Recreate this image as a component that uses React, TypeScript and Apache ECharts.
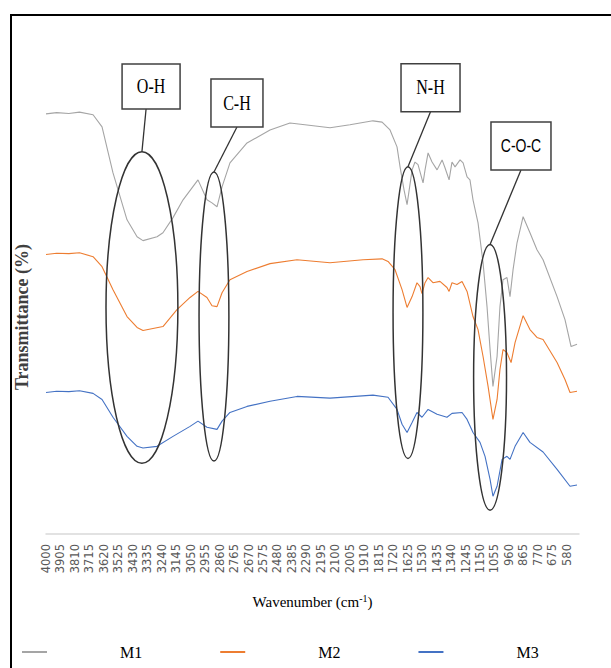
import React, { useEffect, useRef } from "react";
import * as echarts from "echarts";

const seriesNames = ["M1", "M2", "M3"];
const seriesColors = ["#a5a5a5", "#ed7d31", "#4472c4"];

const wavenumberTicks = [
  4000, 3905, 3810, 3715, 3620, 3525, 3430, 3335, 3240, 3145, 3050, 2955, 2860,
  2765, 2670, 2575, 2480, 2385, 2290, 2195, 2100, 2005, 1910, 1815, 1720, 1625,
  1530, 1435, 1340, 1245, 1150, 1055, 960, 865, 770, 675, 580,
];

// [wavenumber, transmittance (arbitrary offset units)]
const m1 = [
  [4000, 96.8], [3930, 97.1], [3850, 96.9], [3780, 97.2], [3691, 96.6], [3632, 93.8],
  [3560, 83.2], [3468, 72.4], [3402, 68.5], [3363, 67.6], [3271, 68.5], [3232, 69.4],
  [3166, 72.9], [3100, 77.0], [3002, 81.6], [2943, 77.0], [2910, 76.3], [2877, 75.4],
  [2844, 80.0], [2792, 85.5], [2680, 90.1], [2529, 93.1], [2398, 94.7], [2300, 94.3],
  [2135, 93.6], [2004, 94.3], [1853, 95.2], [1793, 94.9], [1741, 93.1], [1695, 89.2],
  [1675, 84.6], [1649, 79.3], [1629, 75.9], [1596, 83.9], [1577, 85.7], [1557, 85.1],
  [1524, 80.9], [1511, 83.9], [1491, 87.8], [1465, 85.7], [1432, 83.9], [1399, 86.2],
  [1380, 84.4], [1353, 81.6], [1334, 85.7], [1314, 84.6], [1281, 86.2], [1261, 85.5],
  [1235, 82.3], [1216, 81.6], [1196, 77.0], [1163, 71.7], [1130, 62.5], [1104, 52.4],
  [1084, 42.5], [1065, 34.0], [1038, 40.9], [1019, 52.4], [999, 58.6], [973, 59.1],
  [953, 54.7], [933, 60.9], [907, 67.1], [867, 73.1], [822, 69.4], [776, 65.5],
  [736, 63.2], [644, 54.7], [592, 49.4], [552, 43.2], [513, 43.7],
];

const m2 = [
  [4000, 64.4], [3930, 64.7], [3850, 64.6], [3780, 64.8], [3691, 63.9], [3632, 61.6],
  [3560, 56.3], [3468, 50.1], [3402, 47.6], [3363, 46.9], [3232, 47.8], [3140, 51.7],
  [3054, 54.5], [3002, 55.9], [2943, 54.5], [2910, 52.6], [2877, 52.4], [2844, 55.6],
  [2792, 58.6], [2680, 60.5], [2529, 62.3], [2352, 63.2], [2135, 62.5], [1918, 63.2],
  [1793, 63.4], [1754, 62.8], [1708, 60.9], [1662, 56.3], [1629, 52.2], [1596, 54.7],
  [1564, 57.9], [1544, 57.0], [1531, 55.4], [1511, 57.9], [1491, 59.1], [1459, 57.9],
  [1413, 58.2], [1367, 56.8], [1353, 55.9], [1334, 57.9], [1301, 57.5], [1268, 58.2],
  [1235, 55.9], [1196, 50.1], [1163, 47.1], [1130, 40.9], [1097, 34.0], [1065, 26.4],
  [1038, 31.0], [1019, 37.9], [999, 42.5], [973, 41.8], [946, 39.5], [920, 44.1],
  [867, 50.3], [822, 47.1], [776, 45.3], [736, 44.8], [644, 39.5], [592, 35.6],
  [559, 32.6], [513, 32.9],
];

const m3 = [
  [4000, 32.6], [3930, 32.9], [3850, 32.8], [3780, 33.0], [3691, 32.4], [3632, 31.0],
  [3560, 26.9], [3468, 22.5], [3402, 20.2], [3363, 19.8], [3271, 20.2], [3166, 22.5],
  [3054, 24.8], [3002, 26.0], [2943, 24.6], [2877, 24.1], [2844, 26.0], [2792, 28.0],
  [2680, 29.4], [2529, 30.6], [2352, 31.7], [2135, 31.3], [1853, 32.0], [1754, 31.5],
  [1695, 28.7], [1662, 25.3], [1629, 23.4], [1596, 25.7], [1564, 28.0], [1531, 26.9],
  [1491, 28.7], [1432, 27.6], [1367, 26.9], [1334, 27.8], [1268, 28.0], [1235, 26.4],
  [1196, 23.4], [1150, 21.1], [1117, 17.9], [1084, 12.6], [1065, 8.7], [1038, 11.0],
  [1005, 17.2], [973, 17.9], [953, 17.2], [920, 20.2], [867, 23.4], [822, 21.1],
  [736, 18.9], [644, 14.9], [559, 11.0], [513, 11.3],
];

const seriesData = [m1, m2, m3];

// Band annotations: ellipse centre / half-extent in data units, label box centre in data units
const bandLabels = ["O-H", "C-H", "N-H", "C-O-C"];
const bandEllipses = [
  [3370, 52.2, 236, 35.9],
  [2897, 50.1, 98, 33.3],
  [1623, 51.0, 98, 33.6],
  [1084, 36.1, 108, 30.6],
];
const bandBoxes = [
  [3310, 103.1],
  [2746, 99.3],
  [1475, 102.8],
  [881, 89.4],
];

export default function App() {
  const ref = useRef<HTMLDivElement>(null);

  useEffect(() => {
    if (!ref.current) return;
    const chart = echarts.init(ref.current, null, { renderer: "svg" });
    chart.setOption({
      animation: false,
      backgroundColor: "#ffffff",
      grid: { left: 46, right: 32, top: 100, bottom: 134 },
      legend: {
        left: 22,
        top: 644,
        padding: 0,
        icon: "rect",
        itemWidth: 25,
        itemHeight: 2,
        itemGap: 78,
        data: seriesNames,
        textStyle: {
          fontFamily: "Liberation Serif",
          fontSize: 16,
          color: "#000",
          padding: [0, 0, 0, 68],
        },
      },
      xAxis: {
        type: "value",
        min: 500,
        max: 4000,
        inverse: true,
        name: "Wavenumber (cm{sup|-1})",
        nameLocation: "middle",
        nameGap: 59,
        nameTextStyle: {
          fontFamily: "Liberation Serif",
          fontSize: 15,
          color: "#000",
          rich: {
            sup: { fontFamily: "Liberation Serif", fontSize: 10, color: "#000", padding: [0, 0, 8, 0] },
          },
        },
        axisLine: { show: true, lineStyle: { color: "#d9d9d9", width: 1.5 } },
        axisTick: { show: false },
        splitLine: { show: false },
        axisLabel: {
          customValues: wavenumberTicks,
          rotate: 90,
          margin: 10,
          fontFamily: "DejaVu Sans",
          fontSize: 11.5,
          color: "#595959",
          formatter: (v: number) => String(v),
        },
      },
      yAxis: {
        type: "value",
        min: 0,
        max: 100,
        name: "Transmittance (%)",
        nameLocation: "middle",
        nameGap: 15,
        nameTextStyle: {
          fontFamily: "Liberation Serif",
          fontSize: 18,
          fontWeight: "bold",
          color: "#404040",
        },
        axisLine: { show: false },
        axisTick: { show: false },
        axisLabel: { show: false },
        splitLine: { show: false },
      },
      series: seriesNames.map((name, i) => ({
        name,
        type: "line",
        data: seriesData[i],
        symbol: "none",
        lineStyle: { color: seriesColors[i], width: 1.1 },
        itemStyle: { color: seriesColors[i] },
      })),
    });

    const px = (p: number[]) => chart.convertToPixel({ xAxisIndex: 0, yAxisIndex: 0 }, p) as number[];
    const graphics: any[] = [
      {
        type: "rect",
        shape: { x: 11, y: 15, width: 700, height: 700 },
        style: { fill: "none", stroke: "#000", lineWidth: 2 },
        z: 100,
      },
    ];
    const boxSizes = [
      [58, 45],
      [52, 48],
      [59, 48],
      [60, 48],
    ];
    const lineOffsets = [-5, 0, 0, 0];
    bandLabels.forEach((label, i) => {
      const [wn, v, dwn, dv] = bandEllipses[i];
      const c = px([wn, v]);
      const e1 = px([wn - dwn, v + dv]);
      const rx = Math.abs(e1[0] - c[0]);
      const ry = Math.abs(e1[1] - c[1]);
      const b = px(bandBoxes[i]);
      const [bw, bh] = boxSizes[i];
      graphics.push({
        type: "ellipse",
        shape: { cx: c[0], cy: c[1], rx, ry },
        style: { fill: "none", stroke: "#333", lineWidth: 1.5 },
        z: 50,
      });
      graphics.push({
        type: "line",
        shape: { x1: b[0] + lineOffsets[i], y1: b[1] + bh / 2, x2: c[0], y2: c[1] - ry },
        style: { stroke: "#333", lineWidth: 1.3 },
        z: 50,
      });
      graphics.push({
        type: "rect",
        shape: { x: b[0] - bw / 2, y: b[1] - bh / 2, width: bw, height: bh },
        style: { fill: "#fff", stroke: "#404040", lineWidth: 1.5 },
        z: 51,
      });
      graphics.push({
        type: "text",
        x: b[0],
        y: b[1],
        scaleY: 1.25,
        style: {
          text: label,
          font: label === "C-O-C" ? "14px 'Liberation Sans'" : "16px 'Liberation Serif'",
          fill: "#000",
          align: "center",
          verticalAlign: "middle",
        },
        z: 52,
      });
    });
    chart.setOption({ graphic: graphics });

    return () => chart.dispose();
  }, []);

  return (
    <div
      ref={ref}
      style={{ position: "fixed", left: 0, top: 0, width: 611, height: 668 }}
    />
  );
}
